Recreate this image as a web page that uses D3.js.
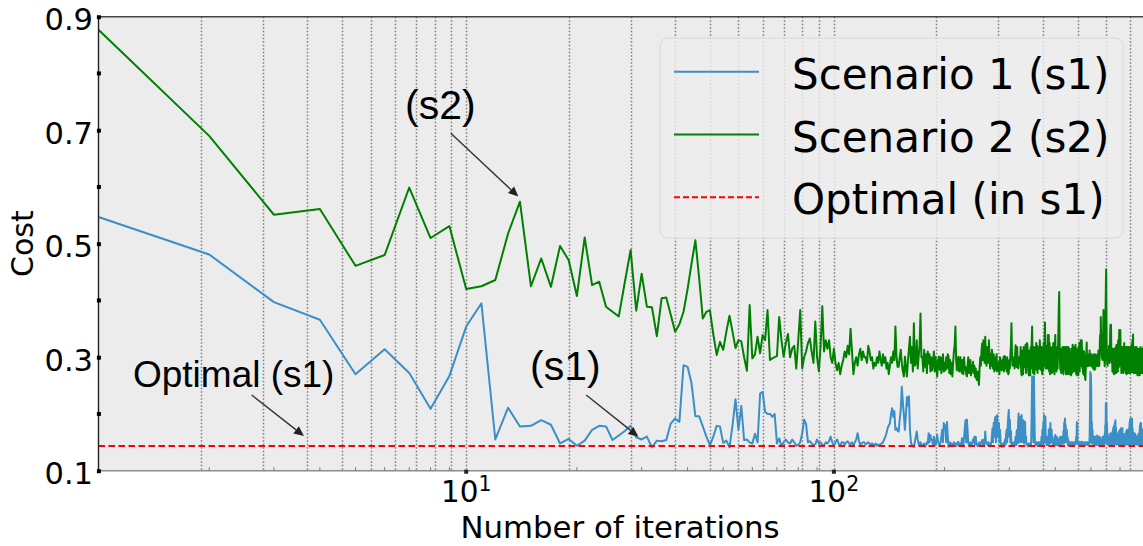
<!DOCTYPE html>
<html>
<head>
<meta charset="utf-8">
<script src="https://cdn.jsdelivr.net/npm/d3@7"></script>
<style>
  html, body { margin: 0; padding: 0; background: #ffffff; overflow: hidden; }
  svg { display: block; }
</style>
</head>
<body>
<svg id="chart" width="1143" height="546"></svg>
<script>
// Cost per iteration, Scenario 1 (s1); entry i is iteration i + 1
const scenario1 = [
  .547, .481, .397, .366, .270, .314, .272, .209, .267, .354,
  .395, .155, .211, .178, .179, .189, .181, .148, .156, .144,
  .153, .172, .179, .178, .154, .162, .170, .179, .159, .155,
  .160, .141, .153, .152, .154, .183, .192, .186, .286, .283,
  .254, .196, .196, .178, .160, .145, .160, .179, .178, .149,
  .153, .141, .180, .226, .172, .214, .154, .155, .150, .148,
  .165, .150, .236, .239, .204, .200, .200, .195, .200, .148,
  .157, .143, .150, .155, .150, .148, .155, .150, .144, .146,
  .150, .166, .190, .182, .150, .152, .148, .145, .147, .155,
  .148, .150, .146, .144, .150, .148, .152, .160, .150, .144,
  .150, .155, .148, .144, .150, .150, .146, .150, .152, .148,
  .147, .150, .144, .150, .155, .166, .152, .146, .148, .150,
  .150, .146, .148, .150, .148, .145, .148, .146, .145, .148,
  .144, .146, .144, .147, .148, .150, .155, .160, .166, .175,
  .180, .183, .200, .210, .195, .205, .172, .175, .170, .169,
  .190, .207, .248, .220, .198, .172, .200, .230, .215, .231,
  .172, .150, .145, .143, .142, .150, .160, .169, .155, .148,
  .145, .150, .143, .146, .144, .148, .142, .145, .150, .148,
  .166, .150, .163, .155, .154, .146, .160, .148, .145, .155,
  .163, .150, .148, .145, .150, .160, .172, .150, .184, .175,
  .180, .150, .186, .160, .142, .145, .150, .143, .148, .146,
  .145, .150, .144, .148, .143, .146, .150, .151, .145, .143,
  .148, .145, .157, .150, .145, .160, .175, .189, .150, .190,
  .170, .148, .145, .143, .150, .145, .146, .148, .155, .150,
  .160, .146, .160, .150, .146, .143, .145, .148, .150, .145,
  .148, .150, .154, .148, .145, .155, .146, .169, .150, .150,
  .148, .145, .150, .143, .146, .148, .145, .150, .160, .175,
  .150, .184, .160, .190, .195, .150, .190, .198, .160, .175,
  .184, .150, .172, .150, .145, .142, .145, .148, .143, .146,
  .150, .155, .146, .165, .172, .150, .180, .195, .207, .160,
  .190, .150, .170, .146, .150, .146, .145, .148, .150, .145,
  .150, .160, .145, .169, .172, .148, .185, .201, .150, .195,
  .160, .185, .150, .198, .160, .185, .150, .189, .148, .175,
  .186, .150, .160, .145, .148, .145, .143, .146, .148, .145,
  .148, .145, .143, .150, .200, .266, .160, .266, .150, .266,
  .200, .150, .148, .145, .146, .150, .145, .148, .143, .150,
  .148, .146, .150, .145, .150, .146, .160, .145, .172, .150,
  .185, .148, .198, .150, .190, .195, .150, .160, .145, .148,
  .150, .160, .145, .172, .150, .175, .148, .184, .150, .165,
  .172, .150, .160, .146, .150, .148, .155, .145, .158, .163,
  .145, .155, .148, .160, .145, .155, .148, .152, .145, .157,
  .145, .155, .160, .145, .158, .146, .160, .148, .160, .150,
  .170, .148, .185, .150, .192, .160, .180, .150, .170, .172,
  .150, .160, .145, .154, .150, .148, .150, .145, .148, .146,
  .150, .145, .148, .150, .146, .148, .145, .150, .147, .146,
  .150, .148, .146, .148, .150, .160, .148, .186, .180, .150,
  .150, .146, .148, .150, .145, .148, .150, .146, .150, .148,
  .151, .148, .145, .150, .147, .146, .150, .148, .145, .147,
  .148, .150, .146, .145, .148, .150, .146, .148, .150, .147,
  .145, .148, .150, .146, .148, .160, .200, .274, .150, .271,
  .240, .150, .185, .148, .172, .150, .160, .146, .160, .150,
  .160, .146, .160, .150, .160, .145, .155, .160, .146, .162,
  .146, .160, .148, .160, .145, .155, .160, .146, .154, .158,
  .145, .150, .155, .146, .148, .150, .145, .160, .146, .150,
  .155, .146, .160, .150, .165, .148, .180, .150, .219, .150,
  .219, .150, .184, .146, .165, .150, .154, .146, .154, .160,
  .146, .160, .148, .165, .146, .160, .166, .145, .165, .150,
  .160, .146, .170, .148, .175, .150, .178, .146, .180, .150,
  .185, .148, .189, .150, .175, .146, .165, .150, .165, .146,
  .162, .148, .165, .146, .168, .150, .170, .146, .168, .172,
  .146, .172, .150, .175, .148, .172, .146, .170, .175, .148,
  .165, .146, .165, .150, .160, .146, .160, .148, .162, .146,
  .165, .150, .168, .146, .170, .150, .172, .146, .170, .150,
  .165, .146, .168, .150, .175, .148, .185, .146, .186, .192,
  .150, .190, .146, .186, .150, .185, .192, .148, .175, .150,
  .168, .146, .166, .150, .165, .146, .166, .150, .165, .146,
  .160, .150, .162, .146, .158, .150, .160, .146, .160, .148,
  .160, .146, .165, .150, .162, .146, .165, .150, .175, .180,
  .150, .184, .146, .184, .150, .175, .146, .172, .150, .172,
  .148, .172, .146, .170, .150, .168, .146, .170, .148, .172
];

// Cost per iteration, Scenario 2 (s2); entry i is iteration i + 1
const scenario2 = [
  .877, .690, .551, .561, .461, .480, .599, .510, .531, .420,
  .425, .436, .518, .574, .425, .474, .424, .496, .471, .408,
  .511, .427, .433, .389, .380, .372, .432, .489, .382, .447,
  .389, .388, .337, .404, .405, .375, .345, .358, .380, .420,
  .465, .506, .440, .368, .380, .383, .340, .304, .327, .313,
  .345, .373, .345, .316, .330, .328, .300, .276, .392, .298,
  .305, .336, .307, .339, .330, .383, .295, .298, .300, .302,
  .371, .330, .301, .325, .341, .300, .315, .320, .280, .330,
  .383, .280, .300, .310, .325, .333, .310, .290, .363, .300,
  .275, .320, .390, .310, .330, .315, .330, .300, .290, .315,
  .290, .277, .290, .270, .285, .295, .310, .300, .320, .305,
  .350, .310, .270, .290, .300, .285, .305, .315, .295, .310,
  .300, .300, .290, .320, .310, .295, .300, .280, .290, .285,
  .300, .290, .310, .295, .285, .305, .290, .300, .280, .290,
  .270, .285, .300, .290, .310, .295, .354, .300, .283, .283,
  .300, .313, .289, .275, .266, .301, .280, .266, .295, .315,
  .336, .290, .318, .275, .360, .285, .289, .330, .280, .301,
  .320, .377, .300, .301, .275, .313, .283, .305, .272, .310,
  .289, .305, .275, .300, .277, .290, .310, .275, .301, .280,
  .266, .295, .301, .278, .300, .272, .289, .305, .275, .290,
  .277, .300, .280, .305, .301, .272, .295, .270, .290, .266,
  .290, .310, .320, .354, .295, .277, .290, .301, .275, .285,
  .300, .275, .272, .295, .270, .300, .278, .283, .270, .266,
  .285, .300, .272, .290, .295, .268, .285, .275, .292, .272,
  .285, .265, .280, .262, .260, .275, .262, .251, .280, .300,
  .285, .310, .324, .295, .330, .305, .290, .336, .300, .285,
  .318, .295, .290, .330, .300, .280, .305, .285, .313, .290,
  .280, .305, .275, .295, .300, .278, .305, .275, .292, .280,
  .289, .270, .300, .280, .283, .277, .295, .278, .300, .275,
  .302, .301, .280, .295, .275, .300, .280, .270, .272, .295,
  .280, .305, .320, .360, .305, .285, .300, .289, .298, .280,
  .305, .321, .285, .283, .318, .295, .280, .283, .295, .301,
  .289, .318, .275, .268, .300, .312, .270, .318, .282, .307,
  .285, .322, .272, .315, .325, .321, .290, .275, .268, .312,
  .289, .268, .318, .280, .325, .354, .301, .272, .318, .285,
  .270, .300, .318, .278, .325, .285, .320, .272, .318, .290,
  .318, .280, .330, .312, .278, .300, .318, .275, .270, .316,
  .278, .325, .285, .330, .361, .315, .280, .318, .285, .320,
  .280, .339, .288, .339, .275, .325, .270, .318, .282, .283,
  .305, .272, .318, .282, .325, .275, .315, .270, .320, .339,
  .285, .318, .275, .312, .307, .280, .320, .350, .390, .415,
  .325, .290, .278, .310, .272, .315, .275, .305, .318, .275,
  .270, .318, .280, .308, .290, .318, .275, .270, .310, .318,
  .275, .310, .270, .318, .285, .272, .315, .270, .305, .280,
  .305, .268, .315, .272, .310, .322, .285, .275, .318, .280,
  .315, .307, .275, .322, .280, .270, .315, .275, .268, .310,
  .280, .268, .318, .282, .325, .275, .315, .320, .330, .305,
  .285, .330, .310, .280, .312, .274, .270, .289, .310, .268,
  .270, .265, .260, .278, .300, .310, .326, .295, .290, .284,
  .302, .285, .289, .305, .290, .312, .285, .302, .301, .290,
  .285, .305, .301, .290, .282, .302, .280, .288, .305, .278,
  .292, .278, .298, .280, .305, .286, .298, .302, .285, .301,
  .290, .305, .284, .312, .301, .290, .285, .302, .330, .340,
  .315, .371, .330, .340, .305, .298, .320, .295, .330, .350,
  .383, .340, .305, .298, .284, .290, .330, .380, .420, .455,
  .380, .318, .298, .290, .285, .302, .290, .312, .298, .320,
  .298, .290, .312, .340, .357, .325, .357, .318, .298, .290,
  .312, .275, .315, .280, .312, .272, .305, .270, .315, .275,
  .283, .310, .272, .318, .280, .272, .322, .285, .280, .320,
  .290, .275, .330, .315, .282, .320, .348, .330, .295, .285,
  .348, .318, .285, .305, .272, .315, .280, .274, .318, .275,
  .315, .280, .272, .315, .285, .325, .278, .312, .307, .318,
  .285, .272, .315, .282, .270, .318, .278, .312, .272, .318,
  .280, .272, .315, .318, .272, .305, .315, .272, .302, .318,
  .272, .308, .275, .315, .322, .320, .274, .330, .285, .278,
  .340, .285, .272, .315, .280, .272, .315, .278, .318, .307,
  .280, .272, .315, .280, .272, .318, .275, .305, .268, .315,
  .276, .268, .277, .305, .270, .315, .274, .308, .268, .315,
  .275, .318, .280, .272, .315, .276, .308, .315, .272, .305,
  .315, .274, .308, .272, .318, .280, .274, .315, .282, .276
];

// Known optimal cost for scenario 1
const optimalS1 = 0.1435;

// Iteration positions of the dotted vertical guides
const gridIters = [1.9, 2.8, 3.7, 4.6, 5.5, 6.4, 7.3, 8.2, 9.1, 10,
                   19, 28, 37, 46, 55, 64, 73, 82, 91, 100,
                   190, 280, 370, 460, 550, 640];

const yMajor = [0.1, 0.3, 0.5, 0.7, 0.9];
const yMinor = [0.2, 0.4, 0.6, 0.8];
const xMajor = [10, 100];
const xMajorExp = ["1", "2"];
const xMinor = [2, 3, 4, 5, 6, 7, 8, 9, 20, 30, 40, 50, 60, 70, 80, 90, 200, 300, 400, 500, 600, 700, 800, 900];

const legendLabels = ["Scenario 1 (s1)", "Scenario 2 (s2)", "Optimal (in s1)"];

// Callouts: label text, label anchor (iteration, cost) and arrow from/to (iteration, cost)
const calloutText = ["(s2)", "Optimal (s1)", "(s1)"];
const calloutLabelAt = [[6.82, 0.7197], [1.241, 0.2475], [14.91, 0.2598]];
const calloutFrom = [[9.08, 0.6945], [2.61, 0.2334], [21.2, 0.2334]];
const calloutTo = [[13.86, 0.583], [3.62, 0.161], [29.4, 0.160]];

(function draw() {
  const svg = d3.select("#chart");
  const W = 1143, H = 546;
  const pLeft = 98.5, pTop = 16.7, pBottom = 470.7;
  const decade = 367.7;

  const x = d3.scaleLog().domain([1, 1000]).range([pLeft, pLeft + 3 * decade]);
  const y = d3.scaleLinear().domain([0.1, 0.9]).range([pBottom, pTop]);

  const C1 = "#3a8fc6", C2 = "#008000", CR = "#ff0000";
  const SANS = "'DejaVu Sans', sans-serif";
  const HELV = "'Liberation Sans', Arial, Helvetica, sans-serif";
  const calloutSize = [41, 37, 41];

  svg.append("rect").attr("width", W).attr("height", H).attr("fill", "#ffffff");

  // plotting area
  svg.append("rect")
    .attr("x", pLeft).attr("y", pTop)
    .attr("width", W - pLeft + 10).attr("height", pBottom - pTop)
    .attr("fill", "#ececec");

  svg.append("defs").append("clipPath").attr("id", "plotClip")
    .append("rect").attr("x", pLeft).attr("y", pTop)
    .attr("width", W - pLeft + 10).attr("height", pBottom - pTop);

  const plot = svg.append("g").attr("clip-path", "url(#plotClip)");

  // dotted vertical guides
  plot.append("g").selectAll("line").data(gridIters).join("line")
    .attr("x1", d => Math.round(x(d)) + 0.5).attr("x2", d => Math.round(x(d)) + 0.5)
    .attr("y1", pTop).attr("y2", pBottom)
    .attr("stroke", "#7c7c7c").attr("stroke-width", 1.5)
    .attr("stroke-dasharray", "1.5,2");

  const iterations = d3.range(1, scenario1.length + 1);
  const line = d3.line().x((d, i) => x(iterations[i])).y(d => y(d));

  plot.append("path").datum(scenario1)
    .attr("d", line).attr("fill", "none")
    .attr("stroke", C1).attr("stroke-width", 2).attr("stroke-linejoin", "round");

  plot.append("path").datum(scenario2)
    .attr("d", line).attr("fill", "none")
    .attr("stroke", C2).attr("stroke-width", 2).attr("stroke-linejoin", "round");

  plot.append("line")
    .attr("x1", pLeft).attr("x2", W + 10)
    .attr("y1", y(optimalS1)).attr("y2", y(optimalS1))
    .attr("stroke", CR).attr("stroke-width", 2)
    .attr("stroke-dasharray", "6.5,3.5");

  // legend
  const lg = svg.append("g");
  lg.append("rect")
    .attr("x", 660).attr("y", 38).attr("width", 463).attr("height", 200)
    .attr("rx", 8).attr("ry", 8)
    .attr("fill", "#eeeeee").attr("fill-opacity", 0.8)
    .attr("stroke", "#d8d8d8").attr("stroke-width", 1);
  const legendStyles = [
    { color: C1, dash: null },
    { color: C2, dash: null },
    { color: CR, dash: "6,3" }
  ];
  legendLabels.forEach((lab, i) => {
    const ly = 71.7 + i * 62.8;
    lg.append("line")
      .attr("x1", 674).attr("x2", 759).attr("y1", ly).attr("y2", ly)
      .attr("stroke", legendStyles[i].color).attr("stroke-width", 2)
      .attr("stroke-dasharray", legendStyles[i].dash);
    lg.append("text")
      .attr("x", 792).attr("y", ly + 17)
      .attr("font-family", SANS).attr("font-size", 42)
      .attr("fill", "#000").text(lab);
  });

  // callouts
  const ann = svg.append("g");
  calloutText.forEach((t, i) => {
    ann.append("text")
      .attr("x", x(calloutLabelAt[i][0])).attr("y", y(calloutLabelAt[i][1]))
      .attr("font-family", HELV).attr("font-size", calloutSize[i])
      .attr("fill", "#000").text(t);
    const x0 = x(calloutFrom[i][0]), y0 = y(calloutFrom[i][1]);
    const x1 = x(calloutTo[i][0]), y1 = y(calloutTo[i][1]);
    const ang = Math.atan2(y1 - y0, x1 - x0);
    const hl = 10, hw = 4.5;
    const bx = x1 - hl * Math.cos(ang), by = y1 - hl * Math.sin(ang);
    ann.append("line")
      .attr("x1", x0).attr("y1", y0).attr("x2", bx).attr("y2", by)
      .attr("stroke", "#333").attr("stroke-width", 1.4);
    const pts = [
      [x1, y1],
      [bx + hw * Math.sin(ang), by - hw * Math.cos(ang)],
      [bx - hw * Math.sin(ang), by + hw * Math.cos(ang)]
    ];
    ann.append("polygon").attr("points", pts.map(p => p.join(",")).join(" "))
      .attr("fill", "#222");
  });

  // spines
  svg.append("line").attr("x1", pLeft).attr("x2", W + 5).attr("y1", pTop).attr("y2", pTop)
    .attr("stroke", "#444").attr("stroke-width", 1.5);
  svg.append("line").attr("x1", pLeft).attr("x2", W + 5).attr("y1", pBottom).attr("y2", pBottom)
    .attr("stroke", "#8c8c8c").attr("stroke-width", 1.6);
  svg.append("line").attr("x1", pLeft).attr("x2", pLeft).attr("y1", pTop - 0.7).attr("y2", pBottom + 0.8)
    .attr("stroke", "#222").attr("stroke-width", 1.4);

  // y axis
  const yAxis = d3.axisLeft(y).tickValues(yMajor).tickSize(0).tickPadding(5.5)
    .tickFormat(d3.format(".1f"));
  const gy = svg.append("g").attr("transform", `translate(${pLeft},0)`).call(yAxis);
  gy.select(".domain").remove();
  gy.selectAll(".tick line")
    .attr("x1", -1.6).attr("x2", 2.4).attr("stroke", "#000").attr("stroke-width", 4);
  gy.selectAll(".tick text")
    .attr("font-family", SANS).attr("font-size", 30.5).attr("fill", "#000").attr("dy", "0.42em");
  svg.append("g").selectAll("rect").data(yMinor).join("rect")
    .attr("x", pLeft - 1.6).attr("y", d => y(d) - 2).attr("width", 4).attr("height", 4)
    .attr("fill", "#000");

  // x axis: minor ticks inside, major marks and labels below
  svg.append("g").selectAll("line").data(xMinor.filter(d => x(d) < W)).join("line")
    .attr("x1", d => x(d)).attr("x2", d => x(d))
    .attr("y1", pBottom).attr("y2", pBottom - 3.5)
    .attr("stroke", "#777").attr("stroke-width", 1);
  svg.append("g").selectAll("rect").data(xMajor).join("rect")
    .attr("x", d => x(d) - 2).attr("y", pBottom - 1).attr("width", 4).attr("height", 4)
    .attr("fill", "#222");
  const gx = svg.append("g");
  xMajor.forEach((d, i) => {
    const t = gx.append("text")
      .attr("x", x(d)).attr("y", pBottom + 31.3)
      .attr("text-anchor", "middle")
      .attr("font-family", SANS).attr("font-size", 29.5).attr("fill", "#000");
    t.append("tspan").text("10");
    t.append("tspan").attr("dy", -11).attr("font-size", 20.5).text(xMajorExp[i]);
  });

  // axis titles
  svg.append("text")
    .attr("x", 620).attr("y", 538)
    .attr("text-anchor", "middle")
    .attr("font-family", SANS).attr("font-size", 30.8).attr("fill", "#000")
    .text("Number of iterations");
  svg.append("text")
    .attr("transform", `translate(33,${(pTop + pBottom) / 2}) rotate(-90)`)
    .attr("text-anchor", "middle")
    .attr("font-family", SANS).attr("font-size", 30).attr("fill", "#000")
    .text("Cost");
})();
</script>
</body>
</html>
